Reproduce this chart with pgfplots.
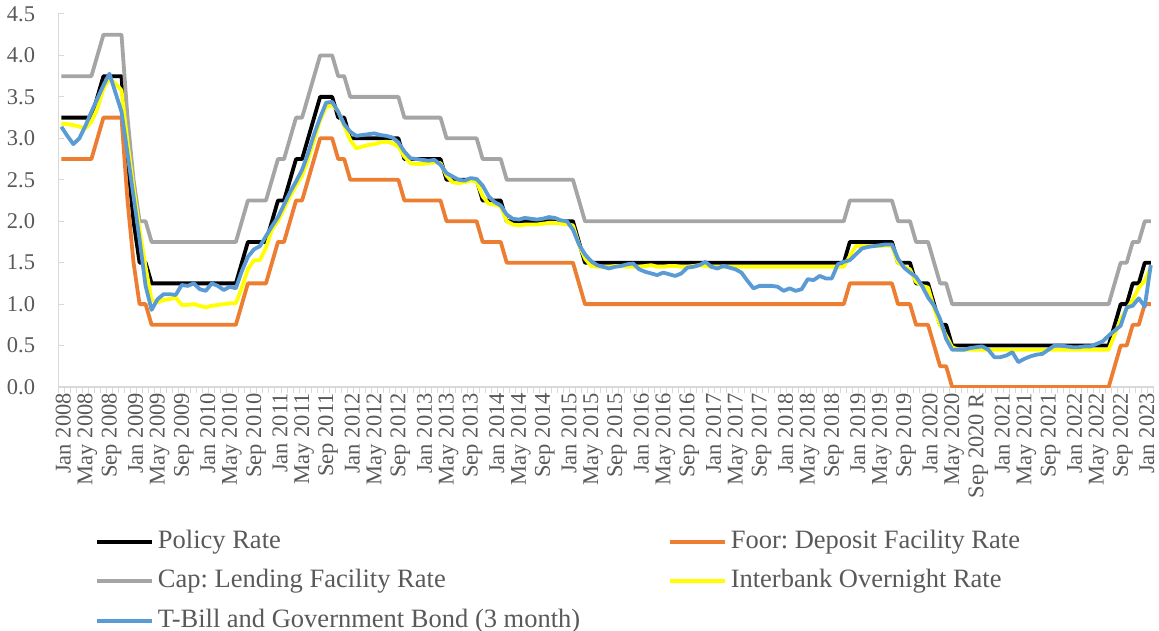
\documentclass[border=0pt]{standalone}
\usepackage{pgfplots}
\pgfplotsset{compat=1.18}
\usepackage{pgfplotstable}
\usepackage{fontspec}
\setmainfont{Liberation Serif}
\frenchspacing

\definecolor{cPol}{HTML}{000000}
\definecolor{cFlo}{HTML}{ED7D31}
\definecolor{cCap}{HTML}{A5A5A5}
\definecolor{cIB}{HTML}{FFFF00}
\definecolor{cTB}{HTML}{5B9BD5}
\definecolor{cTxt}{HTML}{595959}
\definecolor{cAx}{HTML}{D9D9D9}

\pgfplotstableread{
i pol flo cap ib tb
0 3.25 2.75 3.75 3.18 3.14
1 3.25 2.75 3.75 3.17 3.03
2 3.25 2.75 3.75 3.16 2.93
3 3.25 2.75 3.75 3.14 3.00
4 3.25 2.75 3.75 3.12 3.15
5 3.25 2.75 3.75 3.20 3.32
6 3.50 3.00 4.00 3.36 3.48
7 3.75 3.25 4.25 3.60 3.64
8 3.75 3.25 4.25 3.72 3.78
9 3.75 3.25 4.25 3.66 3.55
10 3.75 3.25 4.25 3.58 3.32
11 2.75 2.25 3.25 2.95 2.82
12 2.00 1.50 2.50 2.40 2.30
13 1.50 1.00 2.00 1.90 1.78
14 1.50 1.00 2.00 1.45 1.22
15 1.25 0.75 1.75 1.05 0.93
16 1.25 0.75 1.75 1.02 1.06
17 1.25 0.75 1.75 1.05 1.12
18 1.25 0.75 1.75 1.06 1.12
19 1.25 0.75 1.75 1.08 1.11
20 1.25 0.75 1.75 0.99 1.23
21 1.25 0.75 1.75 0.99 1.22
22 1.25 0.75 1.75 1.00 1.25
23 1.25 0.75 1.75 0.98 1.18
24 1.25 0.75 1.75 0.96 1.16
25 1.25 0.75 1.75 0.98 1.25
26 1.25 0.75 1.75 0.99 1.22
27 1.25 0.75 1.75 1.00 1.17
28 1.25 0.75 1.75 1.01 1.21
29 1.25 0.75 1.75 1.01 1.19
30 1.50 1.00 2.00 1.20 1.40
31 1.75 1.25 2.25 1.42 1.57
32 1.75 1.25 2.25 1.53 1.66
33 1.75 1.25 2.25 1.53 1.70
34 1.75 1.25 2.25 1.68 1.82
35 2.00 1.50 2.50 1.90 1.94
36 2.25 1.75 2.75 2.00 2.05
37 2.25 1.75 2.75 2.15 2.20
38 2.50 2.00 3.00 2.30 2.35
39 2.75 2.25 3.25 2.43 2.48
40 2.75 2.25 3.25 2.55 2.62
41 3.00 2.50 3.50 2.75 2.82
42 3.25 2.75 3.75 2.98 3.05
43 3.50 3.00 4.00 3.22 3.25
44 3.50 3.00 4.00 3.38 3.43
45 3.50 3.00 4.00 3.40 3.44
46 3.25 2.75 3.75 3.33 3.32
47 3.25 2.75 3.75 3.15 3.17
48 3.00 2.50 3.50 2.98 3.08
49 3.00 2.50 3.50 2.88 3.03
50 3.00 2.50 3.50 2.90 3.04
51 3.00 2.50 3.50 2.92 3.05
52 3.00 2.50 3.50 2.93 3.06
53 3.00 2.50 3.50 2.95 3.04
54 3.00 2.50 3.50 2.96 3.03
55 3.00 2.50 3.50 2.94 3.01
56 3.00 2.50 3.50 2.90 2.95
57 2.75 2.25 3.25 2.78 2.84
58 2.75 2.25 3.25 2.70 2.76
59 2.75 2.25 3.25 2.69 2.75
60 2.75 2.25 3.25 2.69 2.74
61 2.75 2.25 3.25 2.70 2.73
62 2.75 2.25 3.25 2.71 2.74
63 2.75 2.25 3.25 2.70 2.68
64 2.50 2.00 3.00 2.55 2.58
65 2.50 2.00 3.00 2.47 2.54
66 2.50 2.00 3.00 2.46 2.50
67 2.50 2.00 3.00 2.47 2.49
68 2.50 2.00 3.00 2.49 2.52
69 2.50 2.00 3.00 2.48 2.51
70 2.25 1.75 2.75 2.30 2.43
71 2.25 1.75 2.75 2.21 2.30
72 2.25 1.75 2.75 2.20 2.23
73 2.25 1.75 2.75 2.18 2.19
74 2.00 1.50 2.50 2.00 2.08
75 2.00 1.50 2.50 1.96 2.03
76 2.00 1.50 2.50 1.95 2.02
77 2.00 1.50 2.50 1.96 2.04
78 2.00 1.50 2.50 1.96 2.03
79 2.00 1.50 2.50 1.96 2.02
80 2.00 1.50 2.50 1.97 2.03
81 2.00 1.50 2.50 1.98 2.05
82 2.00 1.50 2.50 1.98 2.04
83 2.00 1.50 2.50 1.97 2.01
84 2.00 1.50 2.50 1.96 2.00
85 2.00 1.50 2.50 1.95 1.90
86 1.75 1.25 2.25 1.72 1.72
87 1.50 1.00 2.00 1.55 1.60
88 1.50 1.00 2.00 1.46 1.52
89 1.50 1.00 2.00 1.45 1.47
90 1.50 1.00 2.00 1.45 1.45
91 1.50 1.00 2.00 1.45 1.43
92 1.50 1.00 2.00 1.46 1.45
93 1.50 1.00 2.00 1.46 1.46
94 1.50 1.00 2.00 1.45 1.48
95 1.50 1.00 2.00 1.45 1.49
96 1.50 1.00 2.00 1.45 1.42
97 1.50 1.00 2.00 1.46 1.39
98 1.50 1.00 2.00 1.47 1.37
99 1.50 1.00 2.00 1.45 1.35
100 1.50 1.00 2.00 1.45 1.38
101 1.50 1.00 2.00 1.46 1.36
102 1.50 1.00 2.00 1.46 1.34
103 1.50 1.00 2.00 1.45 1.37
104 1.50 1.00 2.00 1.45 1.44
105 1.50 1.00 2.00 1.46 1.45
106 1.50 1.00 2.00 1.47 1.47
107 1.50 1.00 2.00 1.46 1.51
108 1.50 1.00 2.00 1.45 1.45
109 1.50 1.00 2.00 1.45 1.43
110 1.50 1.00 2.00 1.45 1.46
111 1.50 1.00 2.00 1.45 1.44
112 1.50 1.00 2.00 1.45 1.42
113 1.50 1.00 2.00 1.45 1.38
114 1.50 1.00 2.00 1.45 1.28
115 1.50 1.00 2.00 1.45 1.19
116 1.50 1.00 2.00 1.45 1.22
117 1.50 1.00 2.00 1.45 1.22
118 1.50 1.00 2.00 1.45 1.22
119 1.50 1.00 2.00 1.45 1.21
120 1.50 1.00 2.00 1.45 1.16
121 1.50 1.00 2.00 1.45 1.19
122 1.50 1.00 2.00 1.45 1.16
123 1.50 1.00 2.00 1.45 1.18
124 1.50 1.00 2.00 1.45 1.30
125 1.50 1.00 2.00 1.45 1.29
126 1.50 1.00 2.00 1.45 1.34
127 1.50 1.00 2.00 1.45 1.31
128 1.50 1.00 2.00 1.45 1.31
129 1.50 1.00 2.00 1.45 1.48
130 1.50 1.00 2.00 1.45 1.51
131 1.75 1.25 2.25 1.58 1.53
132 1.75 1.25 2.25 1.70 1.60
133 1.75 1.25 2.25 1.70 1.67
134 1.75 1.25 2.25 1.70 1.69
135 1.75 1.25 2.25 1.70 1.70
136 1.75 1.25 2.25 1.70 1.71
137 1.75 1.25 2.25 1.71 1.72
138 1.75 1.25 2.25 1.70 1.72
139 1.50 1.00 2.00 1.50 1.55
140 1.50 1.00 2.00 1.45 1.44
141 1.50 1.00 2.00 1.42 1.38
142 1.25 0.75 1.75 1.27 1.33
143 1.25 0.75 1.75 1.22 1.22
144 1.25 0.75 1.75 1.20 1.08
145 1.00 0.50 1.50 0.95 0.98
146 0.75 0.25 1.25 0.75 0.82
147 0.75 0.25 1.25 0.62 0.58
148 0.50 0.00 1.00 0.48 0.45
149 0.50 0.00 1.00 0.45 0.45
150 0.50 0.00 1.00 0.45 0.45
151 0.50 0.00 1.00 0.45 0.47
152 0.50 0.00 1.00 0.45 0.48
153 0.50 0.00 1.00 0.45 0.49
154 0.50 0.00 1.00 0.45 0.45
155 0.50 0.00 1.00 0.45 0.36
156 0.50 0.00 1.00 0.45 0.36
157 0.50 0.00 1.00 0.45 0.38
158 0.50 0.00 1.00 0.45 0.42
159 0.50 0.00 1.00 0.45 0.30
160 0.50 0.00 1.00 0.45 0.34
161 0.50 0.00 1.00 0.45 0.37
162 0.50 0.00 1.00 0.45 0.39
163 0.50 0.00 1.00 0.45 0.40
164 0.50 0.00 1.00 0.45 0.45
165 0.50 0.00 1.00 0.45 0.50
166 0.50 0.00 1.00 0.45 0.50
167 0.50 0.00 1.00 0.45 0.49
168 0.50 0.00 1.00 0.45 0.48
169 0.50 0.00 1.00 0.45 0.48
170 0.50 0.00 1.00 0.45 0.49
171 0.50 0.00 1.00 0.45 0.49
172 0.50 0.00 1.00 0.45 0.52
173 0.50 0.00 1.00 0.45 0.55
174 0.50 0.00 1.00 0.45 0.62
175 0.75 0.25 1.25 0.63 0.68
176 1.00 0.50 1.50 0.82 0.74
177 1.00 0.50 1.50 0.94 0.96
178 1.25 0.75 1.75 1.05 0.98
179 1.25 0.75 1.75 1.20 1.07
180 1.50 1.00 2.00 1.28 0.97
181 1.50 1.00 2.00 1.45 1.47
}\data

\begin{document}
\begin{tikzpicture}
\begin{axis}[
  name=ax,
  scale only axis,
  width=1095.5pt, height=373pt,
  xmin=-0.5, xmax=181.5, ymin=0, ymax=4.5,
  axis x line*=bottom, axis y line*=left,
  axis line style={cAx, line width=1.2pt},
  tick align=outside,
  xtick={0,4,...,180},
  xticklabels={Jan 2008, May 2008, Sep 2008, Jan 2009, May 2009, Sep 2009, Jan 2010, May 2010, Sep 2010, Jan 2011, May 2011, Sep 2011, Jan 2012, May 2012, Sep 2012, Jan 2013, May 2013, Sep 2013, Jan 2014, May 2014, Sep 2014, Jan 2015, May 2015, Sep 2015, Jan 2016, May 2016, Sep 2016, Jan 2017, May 2017, Sep 2017, Jan 2018, May 2018, Sep 2018, Jan 2019, May 2019, Sep 2019, Jan 2020, May 2020, Sep 2020 R, Jan 2021, May 2021, Sep 2021, Jan 2022, May 2022, Sep 2022, Jan 2023},
  minor xtick={-0.5,0.5,...,181.5},
  major x tick style={draw=none},
  minor x tick style={cAx, line width=1pt},
  minor tick length=6pt,
  major tick length=6pt,
  ytick={0,0.5,...,4.5},
  y tick style={cAx, line width=1pt, xshift=6pt},
  x tick label style={rotate=90, anchor=east, inner sep=0pt, yshift=-2pt, font=\fontsize{22.5}{26}\selectfont, text=cTxt},
  y tick label style={anchor=east, inner sep=0pt, xshift=-17pt, font=\fontsize{22.5}{26}\selectfont, text=cTxt},
  yticklabel style={/pgf/number format/assume math mode=true, /pgf/number format/fixed, /pgf/number format/fixed zerofill, /pgf/number format/precision=1},
  no markers,
  every axis plot/.append style={line width=3.8pt, line join=round},
  legend columns=2,
  legend cell align=left,
  legend image code/.code={\draw[#1] (0pt,0pt) -- (55pt,0pt);},
  legend style={at={(axis description cs:0.0335,-0.3807)}, anchor=north west, draw=none, fill=none, inner sep=0pt,
    font=\fontsize{26.5}{30}\selectfont, text=cTxt,
    nodes={inner xsep=4pt, inner ysep=0pt, text height=19pt, text depth=6pt},
    row sep=14.5pt,
    /tikz/every even column/.append style={column sep=6pt}},
]
\addplot[cPol] table[x=i, y=pol] {\data};
\addlegendentry{\makebox[500pt][l]{Policy Rate}}
\addplot[cFlo] table[x=i, y=flo] {\data};
\addlegendentry{Foor: Deposit Facility Rate}
\addplot[cCap] table[x=i, y=cap] {\data};
\addlegendentry{\makebox[500pt][l]{Cap: Lending Facility Rate}}
\addplot[cIB] table[x=i, y=ib] {\data};
\addlegendentry{Interbank Overnight Rate}
\addplot[cTB] table[x=i, y=tb] {\data};
\addlegendentry{\makebox[500pt][l]{T-Bill and Government Bond (3 month)}}
\end{axis}
\pgfresetboundingbox
\path[use as bounding box] (ax.south west) ++(-58.3pt,-244pt) rectangle ++(1159pt,631pt);
\end{tikzpicture}
\end{document}
